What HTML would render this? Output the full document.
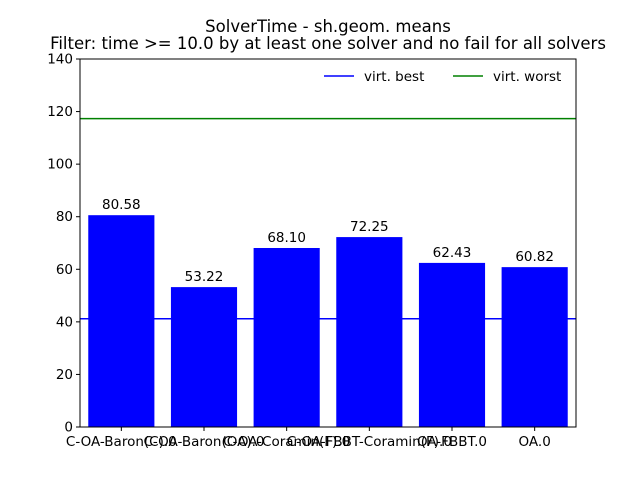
<!DOCTYPE html>
<html><head><meta charset="utf-8"><style>
body{margin:0;background:#fff}
text{font-family:"DejaVu Sans","Liberation Sans",sans-serif;fill:#000}
</style></head><body>
<svg id="chart" width="640" height="480" xmlns="http://www.w3.org/2000/svg"></svg>
<script>
const categories=["C-OA-Baron(C).0","C-OA-Baron(OA).0","C-OA-Coramin(F).0","C-OA-FBBT-Coramin(F).0","OA-FBBT.0","OA.0"];
const values=[80.58,53.22,68.10,72.25,62.43,60.82];
const valueLabels=["80.58","53.22","68.10","72.25","62.43","60.82"];
const yTicks=[0,20,40,60,80,100,120,140];
const virtBest=41.2;
const virtWorst=117.3;
const svg=document.getElementById('chart');
const NS="http://www.w3.org/2000/svg";
const L=80,R=576,T=59,B=427;
const x=v=>L+(v+0.5)*(R-L)/6;
const y=v=>B-v*(B-T)/140;
function mk(tag,attrs,parent){const e=document.createElementNS(NS,tag);for(const k in attrs)e.setAttribute(k,attrs[k]);(parent||svg).appendChild(e);return e;}
function txt(s,attrs){const e=mk('text',attrs);e.textContent=s;return e;}
let t1=txt("SolverTime - sh.geom. means",{x:328,y:32,'text-anchor':'middle','font-size':16.5});


let t2=txt("Filter: time >= 10.0 by at least one solver and no fail for all solvers",{x:328,y:49,'text-anchor':'middle','font-size':16.5});


categories.forEach((c,i)=>{
  const w=0.8*(R-L)/6;
  const r=mk('rect',{x:x(i)-w/2,y:y(values[i]),width:w,height:B-y(values[i]),fill:'#0000ff'});
  
  
  const vl=txt(valueLabels[i],{x:x(i),y:y(values[i])-6,'text-anchor':'middle','font-size':13.5});
  
  
  mk('line',{x1:x(i),x2:x(i),y1:B,y2:B+4,stroke:'#000'});
  const tl=txt(c,{x:x(i),y:B+19,'text-anchor':'middle','font-size':13.5});
  
  
});
const lb=mk('line',{x1:L,x2:R,y1:y(virtBest),y2:y(virtBest),stroke:'#0000ff','stroke-width':1.5});


const lw=mk('line',{x1:L,x2:R,y1:y(virtWorst),y2:y(virtWorst),stroke:'#008000','stroke-width':1.5});


yTicks.forEach(v=>{
  mk('line',{x1:L-4,x2:L,y1:y(v),y2:y(v),stroke:'#000'});
  const e=txt(String(v),{x:L-7,y:y(v)+4.5,'text-anchor':'end','font-size':13.5});
  
  
});
const fr=mk('rect',{x:L,y:T,width:R-L,height:B-T,fill:'none',stroke:'#000','stroke-width':1});


const lg=mk('g',{});


mk('line',{x1:324,x2:354,y1:76,y2:76,stroke:'#0000ff','stroke-width':1.5},lg);
let a=mk('text',{x:364,y:81,'font-size':13.5},lg);a.textContent="virt. best";
mk('line',{x1:453,x2:483,y1:76,y2:76,stroke:'#008000','stroke-width':1.5},lg);
let b=mk('text',{x:493,y:81,'font-size':13.5},lg);b.textContent="virt. worst";
</script>
</body></html>
